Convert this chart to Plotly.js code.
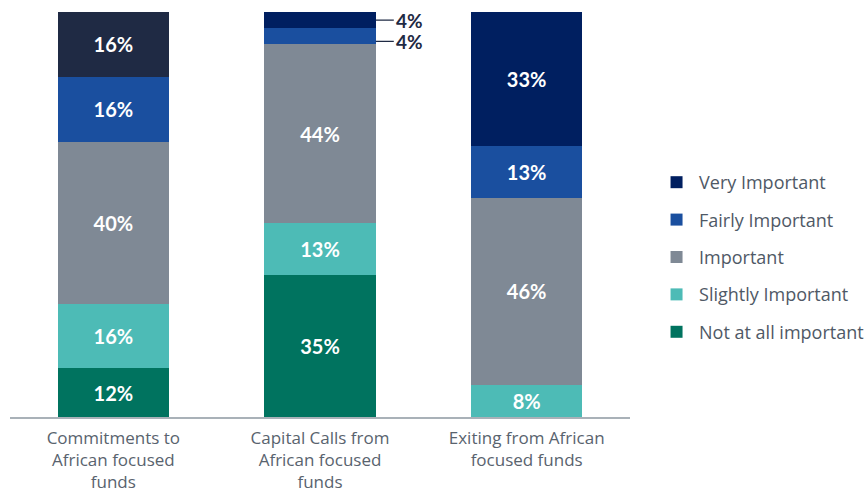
<!DOCTYPE html>
<html><head><meta charset="utf-8">
<script src="https://cdn.plot.ly/plotly-3.0.1.min.js"></script>
<style>html,body{margin:0;padding:0;background:#fff}#chart{width:868px;height:491px}</style>
</head><body><div id="chart"></div>
<script>
const categories = ["Commitments to<br>African focused<br>funds", "Capital Calls from<br>African focused<br>funds", "Exiting from African<br>focused funds"];
const notAtAll = [12, 35, 0];
const slightly = [16, 13, 8];
const important = [40, 44, 46];
const fairly = [16, 4, 13];
const very = [16, 4, 33];
const seriesNames = ["Not at all important", "Slightly Important", "Important", "Fairly Important", "Very Important"];
const seriesValues = [notAtAll, slightly, important, fairly, very];
const seriesColors = ["#00735f", "#4dbbb6", "#7f8995", "#1a4f9f", "#001f60"];
const firstBarTopColor = "#1f2a44";

const FONT = "Lato, 'Open Sans', sans-serif";
const LFONT = "'Open Sans', Lato, sans-serif";
function barTrace(vals, i, opts) {
  return Object.assign({
    type: "bar",
    name: seriesNames[i],
    x: categories,
    y: vals,
    legendgroup: "g" + i,
    legendrank: 10 - i,
    marker: {color: seriesColors[i]},
    textposition: "inside",
    insidetextanchor: "middle",
    textangle: 0,
    constraintext: "none",
    textfont: {family: FONT, size: 20, color: "#ffffff", weight: 700},
    hoverinfo: "skip"
  }, opts || {});
}
const traces = [];
seriesValues.forEach((vals, i) => {
  if (i === seriesValues.length - 1) {
    traces.push(barTrace(vals.map((v, k) => k === 0 ? v : null), i, {showlegend: false, marker: {color: firstBarTopColor}}));
    traces.push(barTrace(vals.map((v, k) => k === 0 ? null : v), i));
  } else {
    traces.push(barTrace(vals, i));
  }
});
traces.forEach(t => { t.text = t.y.map(v => v != null && v >= 8 ? v + "%" : ""); });

// outside labels for small segments
const annotations = [];
categories.forEach((c, ci) => {
  let cum = 0;
  const smalls = [];
  seriesValues.forEach((vals, si) => {
    const v = vals[ci];
    if (v > 0 && v < 8) smalls.push({y: cum + v / 2, v: v});
    cum += v;
  });
  smalls.forEach((s, k) => {
    annotations.push({
      x: ci + 0.27, y: s.y, xref: "x", yref: "y",
      yshift: (k < smalls.length - 1) ? -5 : 0,
      text: "<b>" + s.v + "%</b>", showarrow: true, arrowhead: 0, arrowwidth: 1.2,
      arrowcolor: "#1f2a44", ax: 18, ay: 0, axref: "pixel", ayref: "pixel", xanchor: "left",
      font: {family: FONT, size: 19, color: "#1f2a44"}
    });
  });
});

const layout = {
  width: 868, height: 491,
  margin: {l: 10, r: 238, t: 12, b: 74, autoexpand: false},
  barmode: "stack",
  bargap: 0.46,
  paper_bgcolor: "#fff", plot_bgcolor: "#fff",
  showlegend: true,
  legend: {xref: "container", yref: "container", x: 0.7535, xanchor: "left", y: 0.4766, yanchor: "middle",
    traceorder: "grouped", tracegroupgap: 11,
    font: {family: LFONT, size: 18, color: "#4f5966"}, itemwidth: 35},
  xaxis: {showline: true, linecolor: "#a9b1b8", linewidth: 1.5, ticks: "", showgrid: false, ticklabelstandoff: 5,
    automargin: false, tickfont: {family: LFONT, size: 17, color: "#59636e"}, fixedrange: true},
  yaxis: {range: [0, 100], visible: false, showgrid: false, fixedrange: true},
  annotations: annotations
};
Plotly.newPlot("chart", traces, layout, {displayModeBar: false, staticPlot: true});
</script></body></html>
